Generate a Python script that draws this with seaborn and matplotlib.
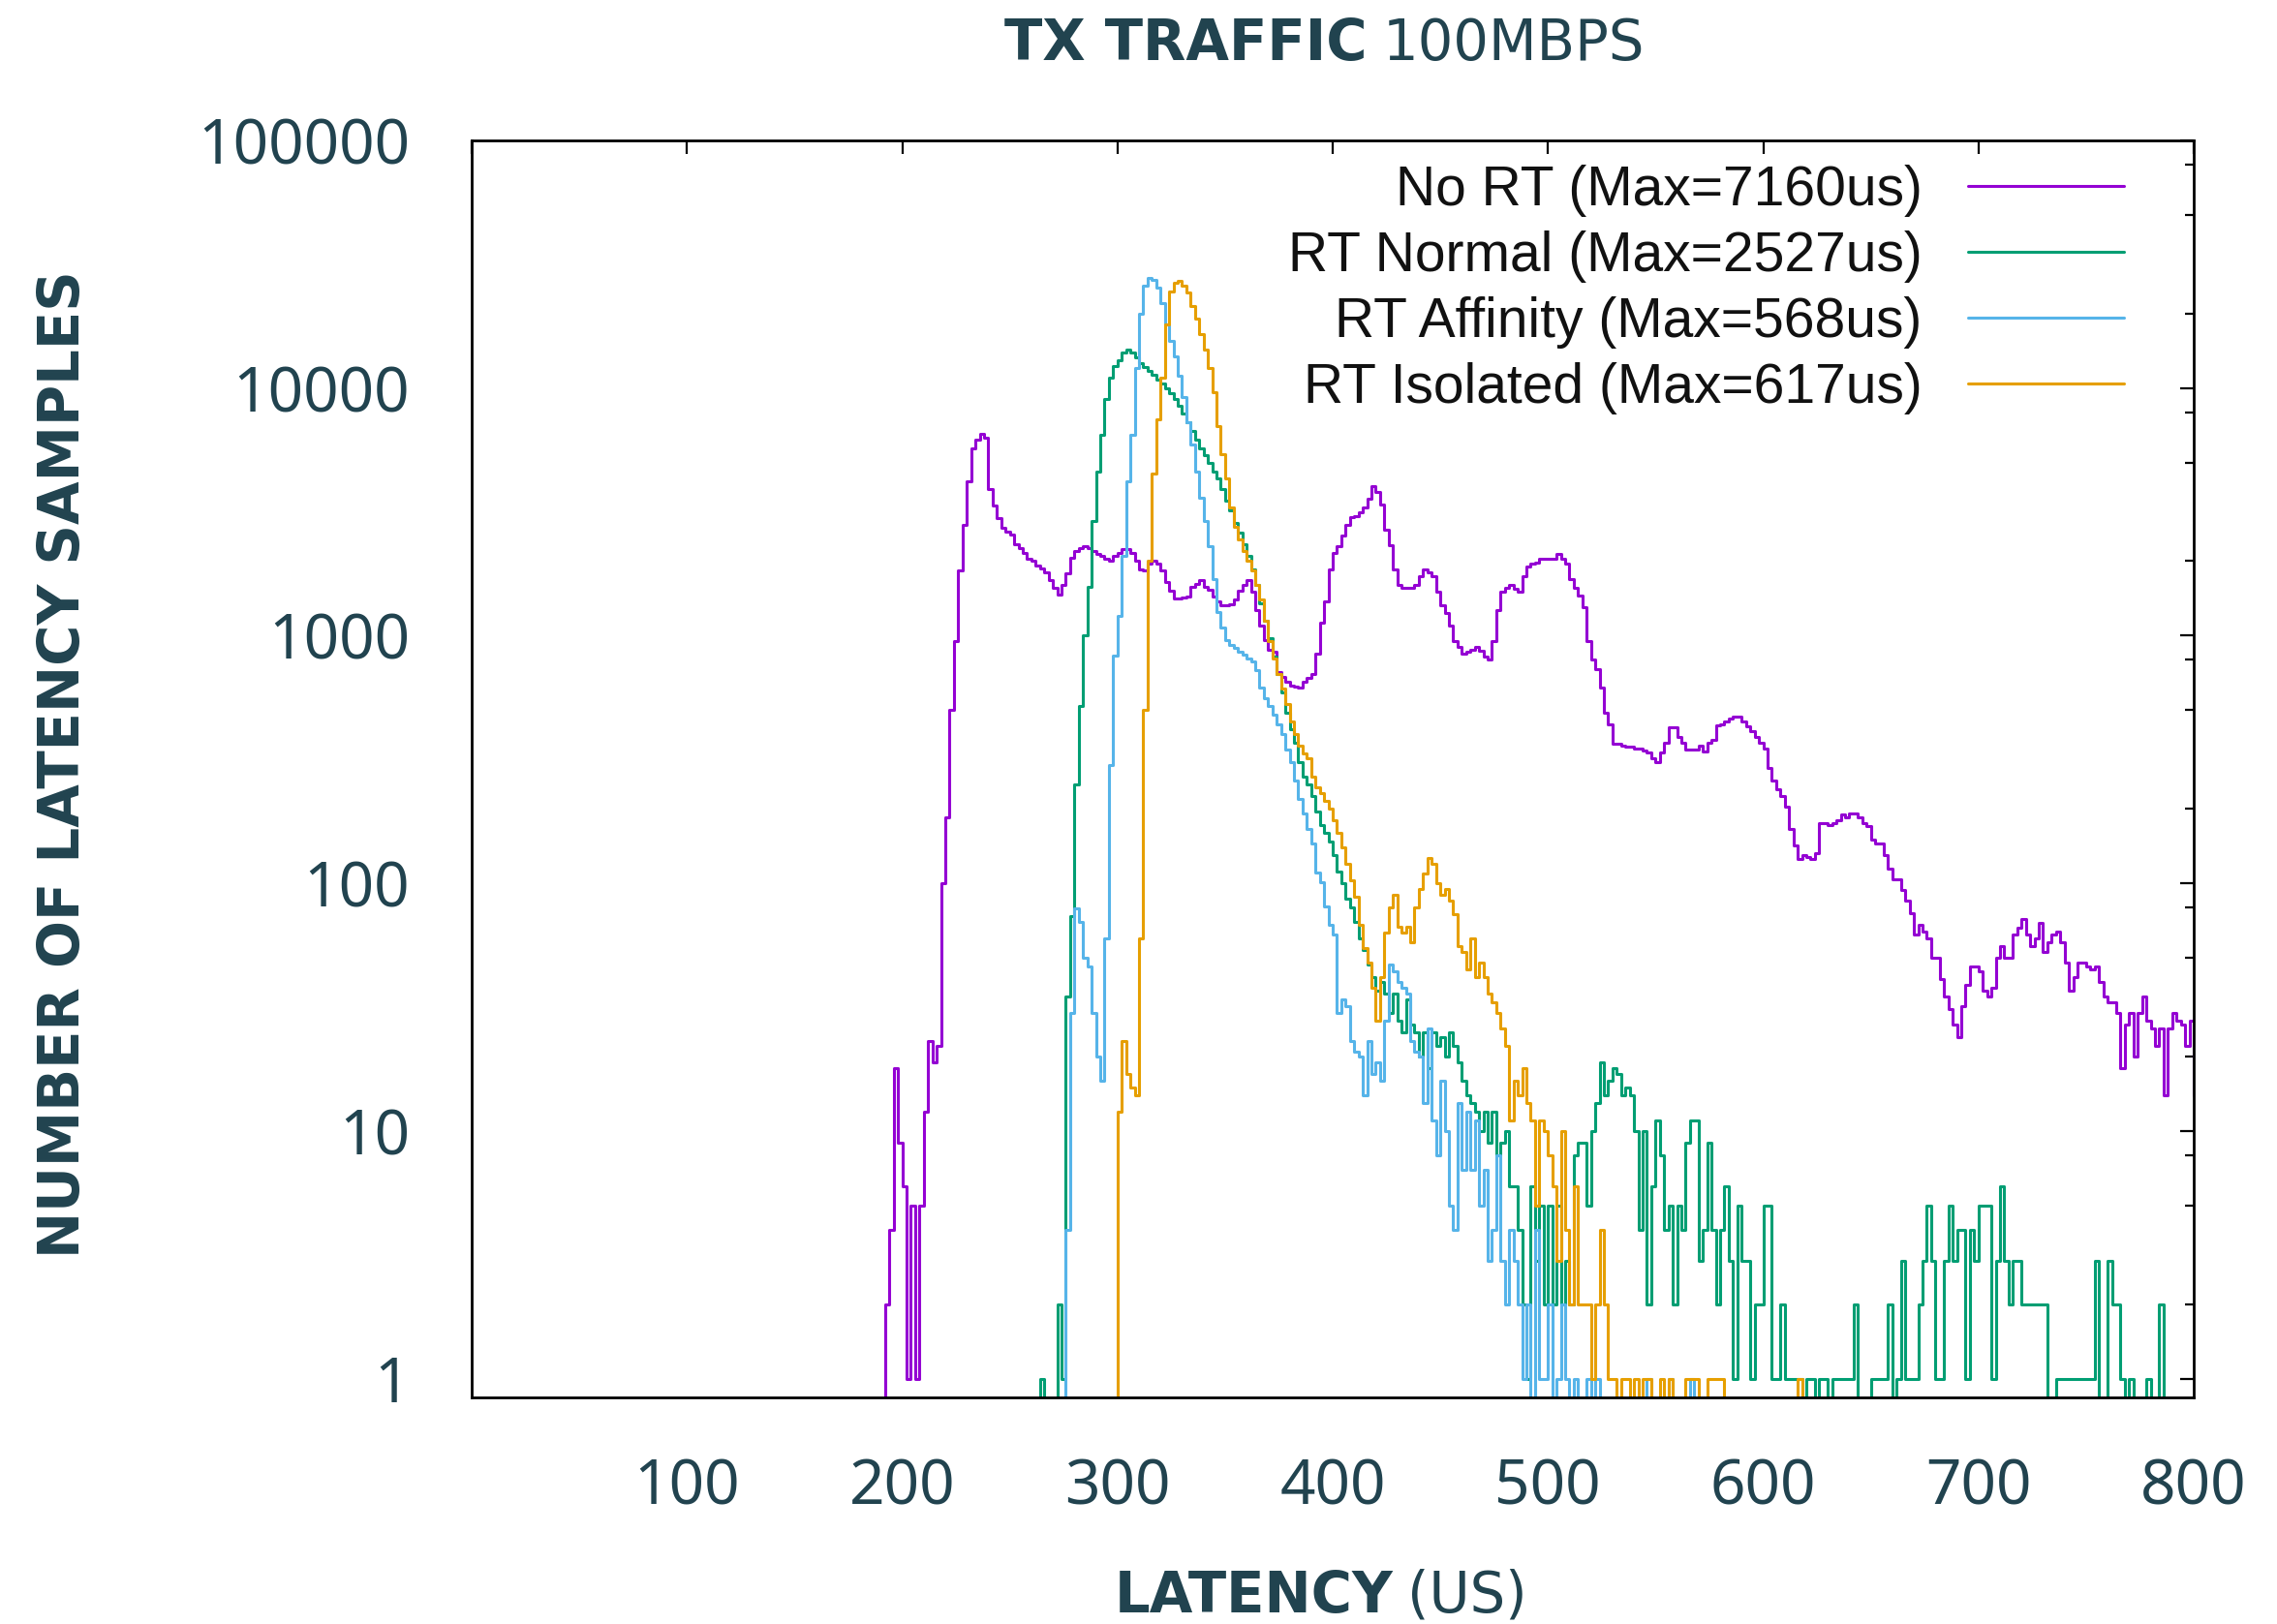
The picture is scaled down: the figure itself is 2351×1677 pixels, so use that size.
import matplotlib
matplotlib.use("Agg")
import matplotlib.pyplot as plt
import matplotlib.transforms as mtransforms
from matplotlib.lines import Line2D
from matplotlib.ticker import LogLocator, NullFormatter, NullLocator, FixedLocator
import numpy as np
import pandas as pd
import seaborn as sns

# ---------------- data (histogram, 2 us bins, bin start latency) ----------------
latency_us = list(range(190, 801, 2))

no_rt = [
    0, 2, 4, 18, 9, 6, 1, 5, 1, 5,                      # 190-208
    12, 23, 19, 22, 100, 184, 500, 950, 1840, 2800,     # 210-228
    4200, 5700, 6200, 6550, 6300, 3900, 3370, 2980, 2720, 2620,
    2570, 2350, 2250, 2150, 2050, 2000, 1915, 1870, 1800, 1680,
    1560, 1460, 1600, 1780, 2070, 2200, 2250, 2300, 2250, 2200,
    2130, 2100, 2050, 2010, 2100, 2150, 2240, 2240, 2150, 2000,
    1860, 1830, 1950, 2000, 1950, 1840, 1650, 1520, 1420, 1420,
    1430, 1440, 1570, 1620, 1670, 1580, 1530, 1440, 1380, 1330,
    1330, 1340, 1400, 1525, 1600, 1670, 1500, 1270, 1100, 960,
    880, 860, 710, 680, 650, 630, 625, 620, 650, 674,
    700, 850, 1130, 1380, 1860, 2150, 2300, 2540, 2800, 3020,
    3050, 3150, 3290, 3590, 4030, 3800, 3390, 2690, 2330, 1850,
    1600, 1555, 1555, 1555, 1600, 1740, 1850, 1800, 1740, 1510,
    1330, 1230, 1100, 950, 900, 850, 860, 880, 900, 870,
    820, 800, 950, 1270, 1500, 1555, 1600, 1550, 1500, 1740,
    1900, 1950, 1980, 2040, 2040, 2040, 2050, 2130, 2050, 1950,
    1700, 1555, 1450, 1307, 953, 800, 735, 617, 490, 437,
    367, 367, 360, 357, 357, 350, 350, 345, 337, 320,
    309, 337, 370, 425, 425, 390, 370, 347, 347, 347,
    361, 340, 370, 380, 433, 440, 450, 463, 473, 470,
    450, 430, 411, 390, 370, 350, 293, 260, 240, 226,
    204, 166, 142, 125, 130, 128, 125, 132, 175, 175,
    172, 175, 180, 189, 185, 192, 192, 185, 175, 170,
    150, 145, 145, 130, 115, 104, 104, 94, 85, 76,
    62, 68, 64, 60, 50, 50, 41, 35, 31, 27,
    24, 32, 39, 46, 46, 44, 37, 35, 38, 50,
    56, 50, 50, 62, 66, 72, 62, 56, 60, 69,
    53, 58, 62, 64, 58, 48, 37, 42, 48, 48,
    46, 45, 46, 40, 35, 33, 33, 30, 18, 27,
    30, 20, 30, 35, 28, 26, 22, 26, 14, 26,
    30, 28, 27, 22, 28, 14,                             # 790-800
]

rt_normal = [
    0, 0, 0, 0, 0, 0, 0, 0, 0, 0,                       # 190-208
    0, 0, 0, 0, 0, 0, 0, 0, 0, 0,
    0, 0, 0, 0, 0, 0, 0, 0, 0, 0,
    0, 0, 0, 0, 0, 0, 0, 1, 0, 0,                       # 250-268
    0, 2, 1, 35, 74, 250, 520, 1000, 1580, 2900,        # 270-288
    4600, 6500, 9000, 11000, 12300, 13000, 13900, 14260, 13900, 13300,
    12600, 12200, 11700, 11300, 10800, 10400, 10000, 9500, 9000, 8500,
    7900, 7300, 6700, 6200, 5700, 5350, 5000, 4600, 4300, 3900,
    3500, 3200, 2850, 2600, 2350, 2100, 1850, 1600, 1350, 1150,
    980, 820, 700, 590, 490, 420, 370, 310, 270, 250,
    225, 195, 172, 160, 148, 130, 112, 100, 87, 80,
    70, 60, 54, 47, 42, 37, 40, 36, 30, 36,
    28, 25, 34, 27, 25, 20, 25, 18, 25, 22,
    24, 20, 25, 22, 19, 16, 14, 13, 12, 10,
    12, 9, 12, 8, 9, 10, 6, 6, 4, 2,
    1, 6, 3, 5, 2, 5, 2, 5, 2, 3,
    2, 8, 9, 9, 5, 10, 13, 19, 14, 16,
    18, 17, 14, 15, 14, 10, 4, 10, 2, 6,
    11, 8, 4, 5, 2, 5, 4, 9, 11, 11,
    3, 4, 9, 4, 2, 4, 6, 3, 1, 5,
    3, 3, 1, 2, 2, 5, 5, 1, 1, 2,
    1, 1, 1, 1, 0, 1, 1, 0, 1, 1,
    0, 1, 1, 1, 1, 1, 2, 0, 0, 0,
    1, 1, 1, 1, 2, 0, 1, 3, 1, 1,
    1, 2, 3, 5, 3, 1, 1, 3, 5, 3,
    4, 4, 1, 4, 3, 5, 5, 5, 1, 3,
    6, 3, 2, 3, 3, 2, 2, 2, 2, 2,
    2, 0, 0, 1, 1, 1, 1, 1, 1, 1,
    1, 1, 3, 0, 0, 3, 2, 2, 1, 0,
    1, 0, 0, 0, 1, 0, 0, 2, 0, 0,
    0, 0, 0, 0, 0, 0,                                   # 790-800
]

rt_affinity = [
    0, 0, 0, 0, 0, 0, 0, 0, 0, 0,                       # 190-208
    0, 0, 0, 0, 0, 0, 0, 0, 0, 0,
    0, 0, 0, 0, 0, 0, 0, 0, 0, 0,
    0, 0, 0, 0, 0, 0, 0, 0, 0, 0,
    0, 0, 0, 4, 30, 79, 70, 50, 46, 30,                 # 270-288
    20, 16, 60, 300, 830, 1200, 2100, 4200, 6500, 12000,
    20000, 26000, 27800, 27400, 25500, 22000, 18000, 15500, 13400, 11200,
    9200, 7300, 5900, 4600, 3600, 2900, 2300, 1700, 1250, 1080,
    960, 920, 895, 860, 835, 810, 790, 728, 620, 560,
    520, 481, 440, 400, 348, 310, 260, 219, 191, 166,
    145, 111, 101, 81, 68, 62, 30, 34, 32, 23,
    21, 20, 14, 23, 17, 19, 16, 28, 47, 44,
    40, 38, 36, 23, 21, 20, 13, 26, 11, 8,
    16, 10, 5, 4, 13, 7, 12, 7, 11, 5,
    7, 3, 4, 8, 3, 2, 4, 3, 2, 1,
    2, 0, 4, 1, 1, 2, 0, 1, 2, 1,
    0, 1, 0, 0, 1, 0, 1, 0, 0, 0,
    0, 0, 0, 0, 0, 0, 0, 0, 1, 0,
    0, 0, 0, 1, 0, 0, 0, 0, 1, 0,                       # 550-568
    0, 0, 0, 0, 0, 0, 0, 0, 0, 0,
    0, 0, 0, 0, 0, 0, 0, 0, 0, 0,
    0, 0, 0, 0, 0, 0, 0, 0, 0, 0,
    0, 0, 0, 0, 0, 0, 0, 0, 0, 0,
    0, 0, 0, 0, 0, 0, 0, 0, 0, 0,
    0, 0, 0, 0, 0, 0, 0, 0, 0, 0,
    0, 0, 0, 0, 0, 0, 0, 0, 0, 0,
    0, 0, 0, 0, 0, 0, 0, 0, 0, 0,
    0, 0, 0, 0, 0, 0, 0, 0, 0, 0,
    0, 0, 0, 0, 0, 0, 0, 0, 0, 0,
    0, 0, 0, 0, 0, 0, 0, 0, 0, 0,
    0, 0, 0, 0, 0, 0,                                   # 790-800
]

rt_isolated = [
    0, 0, 0, 0, 0, 0, 0, 0, 0, 0,                       # 190-208
    0, 0, 0, 0, 0, 0, 0, 0, 0, 0,
    0, 0, 0, 0, 0, 0, 0, 0, 0, 0,
    0, 0, 0, 0, 0, 0, 0, 0, 0, 0,
    0, 0, 0, 0, 0, 0, 0, 0, 0, 0,
    0, 0, 0, 0, 0, 12, 23, 17, 15, 14,                  # 290-308
    60, 500, 2000, 4500, 7500, 11000, 18000, 24500, 26600, 27200,
    26000, 24300, 21500, 19000, 16500, 14300, 12000, 9600, 7000, 5400,
    4300, 3300, 2750, 2450, 2200, 2000, 1840, 1600, 1400, 1150,
    950, 810, 700, 610, 530, 450, 400, 360, 335, 320,
    270, 245, 232, 215, 200, 180, 160, 140, 120, 103,
    88, 68, 55, 48, 38, 28, 42, 63, 80, 90,
    67, 63, 67, 58, 80, 95, 110, 127, 120, 100,
    90, 95, 85, 75, 56, 53, 45, 60, 42, 48,
    42, 36, 33, 30, 26, 22, 11, 16, 14, 18,
    13, 11, 5, 11, 10, 8, 6, 3, 10, 4,
    2, 6, 2, 2, 2, 1, 2, 4, 2, 1,
    1, 0, 1, 1, 0, 1, 0, 1, 1, 0,
    0, 1, 0, 1, 0, 0, 0, 1, 1, 1,
    0, 0, 1, 1, 1, 1, 0, 0, 0, 0,
    0, 0, 0, 0, 0, 0, 0, 0, 0, 0,
    0, 0, 0, 1, 0, 0, 0, 0, 0, 0,                       # 610-628
    0, 0, 0, 0, 0, 0, 0, 0, 0, 0,
    0, 0, 0, 0, 0, 0, 0, 0, 0, 0,
    0, 0, 0, 0, 0, 0, 0, 0, 0, 0,
    0, 0, 0, 0, 0, 0, 0, 0, 0, 0,
    0, 0, 0, 0, 0, 0, 0, 0, 0, 0,
    0, 0, 0, 0, 0, 0, 0, 0, 0, 0,
    0, 0, 0, 0, 0, 0, 0, 0, 0, 0,
    0, 0, 0, 0, 0, 0, 0, 0, 0, 0,
    0, 0, 0, 0, 0, 0,                                   # 790-800
]

series_labels = [
    "No RT (Max=7160us)",
    "RT Normal (Max=2527us)",
    "RT Affinity (Max=568us)",
    "RT Isolated (Max=617us)",
]
series_values = [no_rt, rt_normal, rt_affinity, rt_isolated]
series_colors = ["#9400D3", "#009E73", "#56B4E9", "#E69F00"]

x_ticks = [0, 100, 200, 300, 400, 500, 600, 700, 800]
x_tick_labels = ["", "100", "200", "300", "400", "500", "600", "700", "800"]
y_ticks = [1, 10, 100, 1000, 10000, 100000]
y_tick_labels = ["1", "10", "100", "1000", "10000", "100000"]

title_bold, title_regular = "TX TRAFFIC", "100MBPS"
xlabel_bold, xlabel_regular = "LATENCY", "(US)"
ylabel_text = "NUMBER OF LATENCY SAMPLES"

# ---------------- figure ----------------
sns.set_theme(style="white")
plt.rcParams["font.family"] = ["Liberation Sans", "DejaVu Sans"]

TEAL = "#21434f"
W, H, DPI = 2351, 1677, 100
fig = plt.figure(figsize=(W / DPI, H / DPI), dpi=DPI)
fig.patch.set_facecolor("white")

ax_l, ax_r, ax_t, ax_b = 487, 2265, 145, 1443
ax = fig.add_axes([ax_l / W, 1 - ax_b / H, (ax_r - ax_l) / W, (ax_b - ax_t) / H])

frames = []
for lab, vals in zip(series_labels, series_values):
    frames.append(pd.DataFrame({"latency": latency_us, "samples": vals, "series": lab}))
df = pd.concat(frames, ignore_index=True)

sns.lineplot(
    data=df, x="latency", y="samples", hue="series",
    hue_order=series_labels, palette=series_colors,
    estimator=None, errorbar=None, sort=True, legend=False,
    drawstyle="steps-post", linewidth=2.2, ax=ax,
)
ax.set_yscale("log")
ax.set_xlim(0, 800)
ax.set_ylim(0.84, 100000)

ax.set_xlabel("")
ax.set_ylabel("")
ax.xaxis.set_major_locator(FixedLocator(x_ticks))
ax.set_xticklabels(x_tick_labels)
ax.xaxis.set_minor_locator(NullLocator())
ax.yaxis.set_major_locator(FixedLocator(y_ticks))
ax.set_yticklabels(y_tick_labels)
ax.yaxis.set_minor_locator(LogLocator(base=10, subs=[2.0, 5.0, 8.0], numticks=30))
ax.yaxis.set_minor_formatter(NullFormatter())

ax.tick_params(which="both", direction="in", top=True, right=True,
               color="black", width=1.6)
ax.tick_params(which="major", length=10)
ax.tick_params(which="minor", length=6.5)
ax.tick_params(axis="x", which="major", pad=44)
ax.tick_params(axis="y", which="major", pad=46)
for t in ax.get_xticklabels() + ax.get_yticklabels():
    t.set_fontfamily(["Noto Sans", "DejaVu Sans"])
    t.set_fontsize(46)
    t.set_color(TEAL)

for sp in ax.spines.values():
    sp.set_visible(True)
    sp.set_color("black")
    sp.set_linewidth(2.0)
ax.grid(False)

# legend (text right-aligned, sample line after text, as in gnuplot)
handles = [Line2D([0], [0], color=c, lw=2.2) for c in series_colors]
leg = ax.legend(handles, series_labels, loc="upper right",
                bbox_to_anchor=(0.9595, 0.981), markerfirst=False,
                frameon=False, fontsize=41, handlelength=2.83,
                handletextpad=0.83, labelspacing=0.25,
                borderpad=0, borderaxespad=0)
for t in leg.get_texts():
    t.set_color("#111111")

# ---------------- headings (bold + regular pieces) ----------------
HEAD_FAMILY = ["DejaVu Sans"]
HEAD_SIZE = 41.5


def two_part_text(cx, baseline, bold, regular, size, gap):
    ident = mtransforms.IdentityTransform()
    t1 = fig.text(0, 0, bold, transform=ident, fontsize=size, fontweight="bold",
                  family=HEAD_FAMILY, color=TEAL, va="baseline", ha="left")
    t2 = fig.text(0, 0, regular, transform=ident, fontsize=size, fontweight="normal",
                  family=HEAD_FAMILY, color=TEAL, va="baseline", ha="left")
    fig.canvas.draw()
    r = fig.canvas.get_renderer()
    w1 = t1.get_window_extent(r).width
    w2 = t2.get_window_extent(r).width
    total = w1 + gap + w2
    x0 = cx - total / 2
    yb = H - baseline
    t1.set_position((x0, yb))
    t2.set_position((x0 + w1 + gap, yb))


two_part_text(1368, 62, title_bold, title_regular, HEAD_SIZE, 16)
two_part_text(1364, 1665, xlabel_bold, xlabel_regular, HEAD_SIZE, 14)

fig.text(66 / W, 1 - 789 / H, ylabel_text, rotation=90, ha="center", va="center",
         fontsize=HEAD_SIZE, fontweight="bold", family=HEAD_FAMILY, color=TEAL)

fig.savefig("out.png", dpi=DPI, facecolor="white")
